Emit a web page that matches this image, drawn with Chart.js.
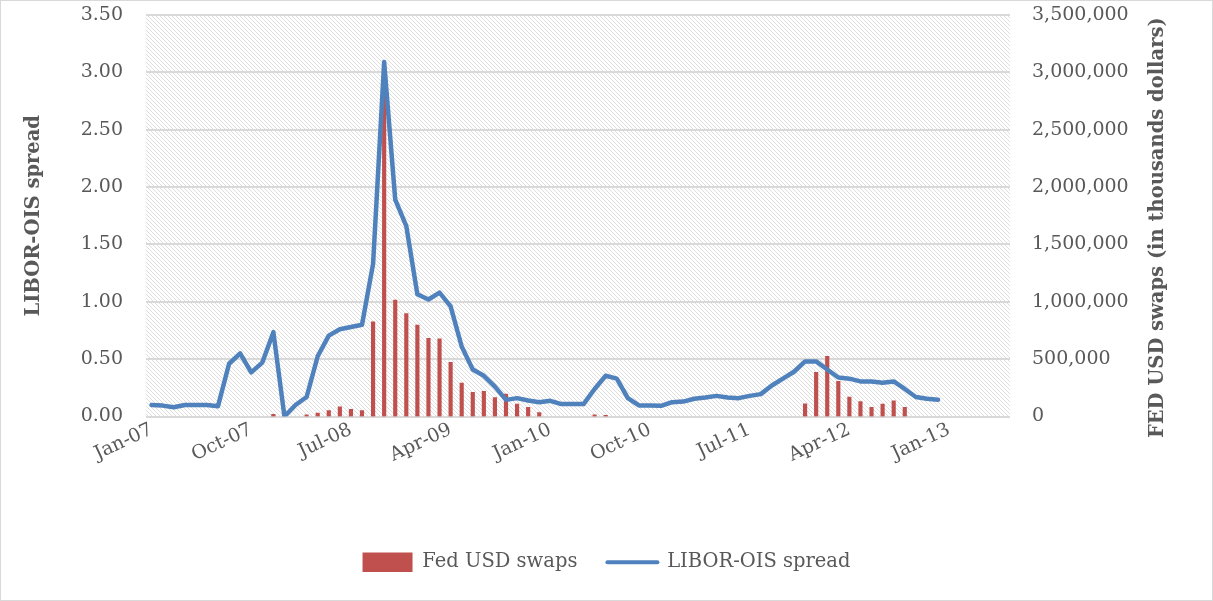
<!DOCTYPE html>
<html>
<head>
<meta charset="utf-8">
<script src="https://cdn.jsdelivr.net/npm/chart.js@4.4.1/dist/chart.umd.min.js"></script>
<style>
  body { margin: 0; background: #fff; }
</style>
</head>
<body>
<canvas id="chart" width="1213" height="601"></canvas>
<script>
// months Jan-07 .. Jun-13 (axis runs a bit past the data)
const monthNames = ['Jan', 'Feb', 'Mar', 'Apr', 'May', 'Jun', 'Jul', 'Aug', 'Sep', 'Oct', 'Nov', 'Dec'];
const months = [];
for (let k = 0; k < 78; k++) {
    const yy = 7 + Math.floor(k / 12);
    months.push(monthNames[k % 12] + '-' + (yy < 10 ? '0' + yy : yy));
}
const labelEvery = 9; // Jan-07, Oct-07, Jul-08 ...

// LIBOR-OIS spread, Jan-07 .. Dec-12
const spread = [
    0.10, 0.095, 0.08, 0.10, 0.10, 0.10, 0.09, 0.46, 0.55, 0.385, 0.47, 0.735,
    0.00, 0.10, 0.17, 0.525, 0.705, 0.76, 0.78, 0.80, 1.33, 3.09, 1.89, 1.66,
    1.065, 1.02, 1.08, 0.96, 0.61, 0.41, 0.355, 0.26, 0.145, 0.16, 0.14, 0.125,
    0.137, 0.108, 0.108, 0.108, 0.24, 0.355, 0.33, 0.16, 0.096, 0.096, 0.093, 0.125,
    0.13, 0.155, 0.165, 0.18, 0.165, 0.16, 0.18, 0.195, 0.27, 0.33, 0.39, 0.48,
    0.48, 0.41, 0.34, 0.33, 0.306, 0.306, 0.295, 0.306, 0.24, 0.17, 0.155, 0.146
];

// Fed USD swaps (thousands of dollars), Jan-07 .. Dec-12
const swaps = [
    null, null, null, null, null, null, null, null, null, null, null, 20000,
    null, null, 15000, 29000, 52000, 85000, 62000, 52000, 825000, 3000000, 1015000, 898000,
    796000, 682000, 677000, 472000, 292000, 210000, 219000, 166000, 195000, 108000, 79000, 35000,
    null, null, null, null, 15000, 10000, null, null, null, null, null, null,
    null, null, null, null, null, null, null, null, null, null, null, 111000,
    385000, 525000, 306000, 169000, 131000, 81000, 108000, 137000, 79000, null, null, null
];

const leftTicks = [0, 0.5, 1, 1.5, 2, 2.5, 3, 3.5];
const rightTicks = [0, 500000, 1000000, 1500000, 2000000, 2500000, 3000000, 3500000];

const textColor = '#595959';
const fontFamily = '"DejaVu Serif", serif';

// light downward diagonal hatch for the plot area
function makeHatch() {
    const c = document.createElement('canvas');
    c.width = 8; c.height = 8;
    const g = c.getContext('2d');
    g.fillStyle = '#ffffff';
    g.fillRect(0, 0, 8, 8);
    g.fillStyle = '#dedede';
    for (let i = 0; i < 8; i++) {
        g.fillRect(i, i, 1, 1);
        g.fillRect((i + 4) % 8, i, 1, 1);
    }
    return g.createPattern(c, 'repeat');
}

const backdrop = {
    id: 'backdrop',
    beforeDraw(chart) {
        const {ctx, chartArea: a} = chart;
        ctx.save();
        ctx.fillStyle = '#ffffff';
        ctx.fillRect(0, 0, chart.width, chart.height);
        ctx.fillStyle = makeHatch();
        ctx.fillRect(a.left, a.top, a.right - a.left, a.bottom - a.top);
        ctx.strokeStyle = '#d9d9d9';
        ctx.lineWidth = 1;
        ctx.strokeRect(0.5, 0.5, chart.width - 1, chart.height - 1);
        ctx.restore();
    }
};

// right axis title reads bottom-to-top like the left one
const rightTitle = {
    id: 'rightTitle',
    afterDraw(chart) {
        const {ctx, chartArea: a} = chart;
        ctx.save();
        ctx.translate(1158, (a.top + a.bottom) / 2 + 12);
        ctx.rotate(-Math.PI / 2);
        ctx.font = 'bold 19.5px ' + fontFamily;
        ctx.fillStyle = textColor;
        ctx.textAlign = 'center';
        ctx.textBaseline = 'middle';
        ctx.fillText('FED USD swaps (in thousands dollars)', 0, 0);
        ctx.restore();
    }
};

// keep tick-label padding from pushing the plot area down
function noVerticalPad(scale) {
    scale.paddingTop = 0;
    scale.paddingBottom = 0;
}

new Chart(document.getElementById('chart'), {
    data: {
        labels: months,
        datasets: [{
            type: 'bar',
            label: 'Fed USD swaps',
            data: swaps,
            yAxisID: 'y1',
            backgroundColor: '#c0504d',
            barThickness: 3.5,
            order: 2
        }, {
            type: 'line',
            label: 'LIBOR-OIS spread',
            data: spread,
            yAxisID: 'y',
            borderColor: '#4f81bd',
            borderWidth: 4.5,
            pointRadius: 0,
            tension: 0,
            borderJoinStyle: 'round',
            borderCapStyle: 'round',
            order: 1
        }]
    },
    options: {
        responsive: false,
        animation: false,
        layout: { padding: { top: 15, left: 0, right: 0, bottom: 19 } },
        plugins: {
            tooltip: { enabled: false },
            legend: {
                position: 'bottom',
                labels: {
                    usePointStyle: true,
                    pointStyleWidth: 50,
                    padding: 30,
                    color: textColor,
                    font: { family: fontFamily, size: 19.5 },
                    generateLabels(chart) {
                        const ds = chart.data.datasets;
                        return [{
                            text: ds[0].label, datasetIndex: 0,
                            fillStyle: '#c0504d', strokeStyle: '#c0504d', lineWidth: 0,
                            pointStyle: 'rect', fontColor: textColor
                        }, {
                            text: ds[1].label, datasetIndex: 1,
                            fillStyle: '#4f81bd', strokeStyle: '#4f81bd', lineWidth: 4,
                            lineCap: 'round', pointStyle: 'line', fontColor: textColor
                        }];
                    }
                }
            }
        },
        scales: {
            x: {
                offset: true,
                grid: { display: false },
                border: { display: false },
                afterFit(scale) { scale.height = 106; },
                ticks: {
                    autoSkip: false,
                    minRotation: 25,
                    maxRotation: 25,
                    padding: -6,
                    color: textColor,
                    font: { family: fontFamily, size: 19 },
                    callback(value, index) {
                        return index % labelEvery === 0 ? months[index] : null;
                    }
                }
            },
            y: {
                position: 'left',
                min: 0,
                max: 3.5,
                afterFit(scale) { scale.width = 146; noVerticalPad(scale); },
                afterBuildTicks(scale) { scale.ticks = leftTicks.map(v => ({ value: v })); },
                grid: { color: '#d9d9d9', lineWidth: 2, drawTicks: false },
                border: { display: false },
                ticks: {
                    padding: 23,
                    color: textColor,
                    font: { family: fontFamily, size: 19 },
                    callback: v => v.toFixed(2)
                },
                title: {
                    display: true,
                    text: 'LIBOR-OIS spread',
                    color: textColor,
                    padding: { top: 22, bottom: 0 },
                    font: { family: fontFamily, size: 19.5, weight: 'bold' }
                }
            },
            y1: {
                position: 'right',
                min: 0,
                max: 3500000,
                afterFit(scale) { scale.width = 203; noVerticalPad(scale); },
                afterBuildTicks(scale) { scale.ticks = rightTicks.map(v => ({ value: v })); },
                grid: { display: false, drawTicks: false },
                border: { display: false },
                ticks: {
                    padding: 22,
                    color: textColor,
                    font: { family: fontFamily, size: 19 },
                    callback: v => v.toLocaleString('en-US')
                }
            }
        }
    },
    plugins: [backdrop, rightTitle]
});
</script>
</body>
</html>
